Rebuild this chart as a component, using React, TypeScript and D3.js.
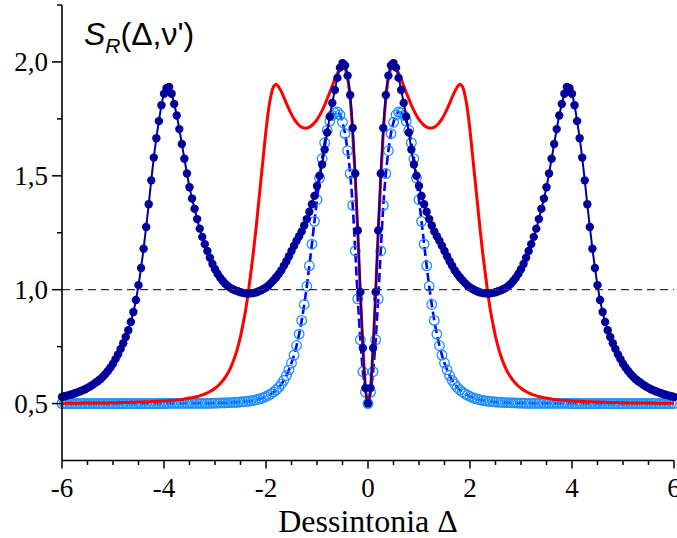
import React from 'react';
import * as d3 from 'd3';

const W = 677;
const H = 538;

// Detuning grid (Δ from -6 to 6, step 0.05)
const DELTA: number[] = d3.range(-120, 121).map((i) => i / 20);

// Dark navy series (filled circles + solid line)
const NAVY: number[] = [
  0.529,0.532,0.535,0.538,0.541,0.545,0.549,0.553,0.558,0.563,0.569,
  0.575,0.582,0.590,0.598,0.607,0.618,0.630,0.643,0.658,0.675,
  0.695,0.716,0.740,0.765,0.792,0.822,0.858,0.902,0.955,1.020,
  1.095,1.180,1.275,1.375,1.480,1.580,1.665,1.740,1.810,1.860,
  1.885,1.890,1.860,1.815,1.765,1.705,1.640,1.575,1.510,1.450,
  1.400,1.355,1.310,1.268,1.232,1.200,1.170,1.140,1.113,1.090,
  1.070,1.053,1.039,1.026,1.016,1.008,1.002,0.997,0.993,0.989,
  0.986,0.984,0.983,0.984,0.985,0.988,0.992,0.997,1.003,1.010,
  1.019,1.030,1.042,1.055,1.069,1.085,1.105,1.125,1.147,1.170,
  1.193,1.215,1.235,1.256,1.282,1.310,1.342,1.375,1.412,1.455,
  1.500,1.550,1.615,1.690,1.760,1.820,1.877,1.930,1.975,1.995,
  1.985,1.940,1.855,1.710,1.510,1.260,0.990,0.744,0.568,
  0.500,
  0.568,0.744,0.990,1.260,1.510,1.710,1.855,1.940,1.985,
  1.995,1.975,1.930,1.877,1.820,1.760,1.690,1.615,1.550,1.500,
  1.455,1.412,1.375,1.342,1.310,1.282,1.256,1.235,1.215,1.193,
  1.170,1.147,1.125,1.105,1.085,1.069,1.055,1.042,1.030,1.019,
  1.010,1.003,0.997,0.992,0.988,0.985,0.984,0.983,0.984,0.986,
  0.989,0.993,0.997,1.002,1.008,1.016,1.026,1.039,1.053,1.070,
  1.090,1.113,1.140,1.170,1.200,1.232,1.268,1.310,1.355,1.400,
  1.450,1.510,1.575,1.640,1.705,1.765,1.815,1.860,1.890,1.885,
  1.860,1.810,1.740,1.665,1.580,1.480,1.375,1.275,1.180,1.095,
  1.020,0.955,0.902,0.858,0.822,0.792,0.765,0.740,0.716,0.695,
  0.675,0.658,0.643,0.630,0.618,0.607,0.598,0.590,0.582,0.575,
  0.569,0.563,0.558,0.553,0.549,0.545,0.541,0.538,0.535,0.532,0.529,
];

// Light blue series (open circles + blue dashed line)
const LIGHT: number[] = [
  0.500,0.500,0.500,0.500,0.500,0.500,0.500,0.500,0.500,0.500,
  0.500,0.500,0.500,0.500,0.500,0.500,0.500,0.500,0.500,0.500,
  0.500,0.500,0.500,0.500,0.500,0.500,0.500,0.500,0.500,0.500,
  0.500,0.500,0.500,0.500,0.500,0.500,0.500,0.500,0.500,0.500,
  0.500,
  0.501,0.501,0.501,0.501,0.501,0.501,0.501,0.501,0.501,0.501,
  0.501,0.501,0.501,0.501,0.501,0.501,0.501,0.501,0.502,0.502,
  0.502,0.503,0.503,0.503,0.504,0.504,0.505,0.505,0.506,0.507,
  0.508,0.509,0.510,0.512,0.514,0.516,0.519,0.522,0.526,0.531,
  0.537,0.543,0.551,0.560,0.571,0.585,0.602,0.623,0.648,0.678,
  0.713,0.755,0.805,0.865,0.935,1.015,1.105,1.200,1.300,1.395,
  1.490,1.575,1.645,1.700,1.740,1.765,1.776,1.780,1.768,1.735,
  1.685,1.610,1.510,1.370,1.170,0.960,0.780,0.640,0.550,
  0.500,
  0.550,0.640,0.780,0.960,1.170,1.370,1.510,1.610,1.685,
  1.735,1.768,1.780,1.776,1.765,1.740,1.700,1.645,1.575,1.490,
  1.395,1.300,1.200,1.105,1.015,0.935,0.865,0.805,0.755,0.713,
  0.678,0.648,0.623,0.602,0.585,0.571,0.560,0.551,0.543,0.537,
  0.531,0.526,0.522,0.519,0.516,0.514,0.512,0.510,0.509,0.508,
  0.507,0.506,0.505,0.505,0.504,0.504,0.503,0.503,0.503,0.502,
  0.502,0.502,0.501,0.501,0.501,0.501,0.501,0.501,0.501,0.501,
  0.501,0.501,0.501,0.501,0.501,0.501,0.501,0.501,0.501,0.501,
  0.500,
  0.500,0.500,0.500,0.500,0.500,0.500,0.500,0.500,0.500,0.500,
  0.500,0.500,0.500,0.500,0.500,0.500,0.500,0.500,0.500,0.500,
  0.500,0.500,0.500,0.500,0.500,0.500,0.500,0.500,0.500,0.500,
  0.500,0.500,0.500,0.500,0.500,0.500,0.500,0.500,0.500,0.500,
];

// Red series (solid line, no markers)
const RED: number[] = [
  0.501,0.501,0.501,0.501,0.501,0.501,0.501,0.501,0.502,0.502,0.502,
  0.502,0.502,0.502,0.503,0.503,0.503,0.503,0.503,0.504,0.504,
  0.504,0.504,0.505,0.505,0.505,0.505,0.506,0.506,0.506,0.507,
  0.507,0.507,0.508,0.508,0.509,0.509,0.510,0.510,0.511,0.511,
  0.512,0.513,0.514,0.515,0.516,0.517,0.518,0.520,0.522,0.524,
  0.526,0.528,0.531,0.534,0.538,0.542,0.547,0.553,0.559,0.567,
  0.576,0.587,0.600,0.615,0.633,0.655,0.681,0.712,0.750,0.795,
  0.850,0.910,0.985,1.070,1.160,1.260,1.370,1.480,1.590,1.700,
  1.790,1.855,1.892,1.902,1.890,1.870,1.845,1.818,1.793,1.770,
  1.750,1.734,1.722,1.714,1.710,1.710,1.714,1.722,1.733,1.747,
  1.765,1.786,1.810,1.838,1.866,1.895,1.925,1.950,1.972,1.980,
  1.970,1.930,1.840,1.690,1.490,1.250,0.990,0.750,0.570,
  0.500,
  0.570,0.750,0.990,1.250,1.490,1.690,1.840,1.930,1.970,
  1.980,1.972,1.950,1.925,1.895,1.866,1.838,1.810,1.786,1.765,
  1.747,1.733,1.722,1.714,1.710,1.710,1.714,1.722,1.734,1.750,
  1.770,1.793,1.818,1.845,1.870,1.890,1.902,1.892,1.855,1.790,
  1.700,1.590,1.480,1.370,1.260,1.160,1.070,0.985,0.910,0.850,
  0.795,0.750,0.712,0.681,0.655,0.633,0.615,0.600,0.587,0.576,
  0.567,0.559,0.553,0.547,0.542,0.538,0.534,0.531,0.528,0.526,
  0.524,0.522,0.520,0.518,0.517,0.516,0.515,0.514,0.513,0.512,
  0.511,0.511,0.510,0.510,0.509,0.509,0.508,0.508,0.507,0.507,
  0.507,0.506,0.506,0.506,0.505,0.505,0.505,0.505,0.504,0.504,
  0.504,0.504,0.503,0.503,0.503,0.503,0.503,0.502,0.502,0.502,
  0.502,0.502,0.502,0.501,0.501,0.501,0.501,0.501,0.501,0.501,0.501,
];

const X_MAJOR = [-6, -4, -2, 0, 2, 4, 6];
const X_MINOR = [-5.5, -5, -4.5, -3.5, -3, -2.5, -1.5, -1, -0.5, 0.5, 1, 1.5, 2.5, 3, 3.5, 4.5, 5, 5.5];
const Y_MAJOR = [0.5, 1.0, 1.5, 2.0];
const Y_MINOR = [0.75, 1.25, 1.75, 2.25];
const REF_LEVEL = 1.0;

const X_TITLE = 'Dessintonia Δ';

export default function App() {
  const x = d3.scaleLinear().domain([-6, 6]).range([62, 674]);
  const y = d3.scaleLinear().domain([0.25, 2.25]).range([460.5, 5]);

  const mk = (vals: number[]) =>
    d3
      .line<number>()
      .x((_, i) => x(DELTA[i]))
      .y((v) => y(v))
      .curve(d3.curveMonotoneX)(vals) || '';

  const fmtY = (v: number) => d3.format('.1f')(v).replace('.', ',');
  const fmtX = (v: number) => String(v);

  const serif = '"Liberation Serif", "Times New Roman", serif';
  const sans = '"Liberation Sans", Arial, sans-serif';

  const x0 = x(-6);
  const x1 = x(6);
  const yb = y(0.25);
  const yt = y(2.25);

  return (
    <svg
      width={W}
      height={H}
      style={{ position: 'absolute', left: 0, top: 0, background: '#fff' }}
    >
      {/* light blue series */}
      <path d={mk(LIGHT)} fill="none" stroke="#0000FF" strokeWidth={2.6} strokeDasharray="9,4" />
      {LIGHT.map((v, i) => (
        <circle key={'l' + i} cx={x(DELTA[i])} cy={y(v)} r={4.8} fill="none" stroke="#1E90FF" strokeWidth={1.3} />
      ))}

      {/* red series */}
      <path d={mk(RED)} fill="none" stroke="#FF0000" strokeWidth={3} />

      {/* navy series */}
      <path d={mk(NAVY)} fill="none" stroke="#00009C" strokeWidth={2} />
      {NAVY.map((v, i) => (
        <circle key={'n' + i} cx={x(DELTA[i])} cy={y(v)} r={4.2} fill="#00009C" />
      ))}

      {/* reference dashed line */}
      <line x1={x0} x2={x1} y1={y(REF_LEVEL)} y2={y(REF_LEVEL)} stroke="#333" strokeWidth={1.2} strokeDasharray="8,5" />

      {/* axes */}
      <line x1={x0} x2={x0} y1={yt} y2={yb} stroke="#000" strokeWidth={1.6} />
      <line x1={x0} x2={x1} y1={yb} y2={yb} stroke="#000" strokeWidth={1.6} />

      {Y_MAJOR.map((v) => (
        <g key={'ym' + v}>
          <line x1={x0 - 10} x2={x0} y1={y(v)} y2={y(v)} stroke="#000" strokeWidth={1.5} />
          <text x={x0 - 14} y={y(v)} dy="0.34em" textAnchor="end" fontFamily={serif} fontSize={27}>
            {fmtY(v)}
          </text>
        </g>
      ))}
      {Y_MINOR.map((v) => (
        <line key={'yn' + v} x1={x0 - 5} x2={x0} y1={y(v)} y2={y(v)} stroke="#000" strokeWidth={1.5} />
      ))}

      {X_MAJOR.map((v) => (
        <g key={'xm' + v}>
          <line x1={x(v)} x2={x(v)} y1={yb} y2={yb + 8} stroke="#000" strokeWidth={1.5} />
          <text x={x(v)} y={497} textAnchor="middle" fontFamily={serif} fontSize={27}>
            {fmtX(v)}
          </text>
        </g>
      ))}
      {X_MINOR.map((v) => (
        <line key={'xn' + v} x1={x(v)} x2={x(v)} y1={yb} y2={yb + 4.5} stroke="#000" strokeWidth={1.5} />
      ))}

      <text x={(x0 + x1) / 2} y={532} textAnchor="middle" fontFamily={serif} fontSize={32}>
        {X_TITLE}
      </text>

      <text x={84} y={45} fontFamily={sans} fontSize={32}>
        <tspan fontStyle="italic">S</tspan>
        <tspan fontStyle="italic" fontSize={21} dy={8}>R</tspan>
        <tspan dy={-8}>(Δ,ν')</tspan>
      </text>
    </svg>
  );
}
